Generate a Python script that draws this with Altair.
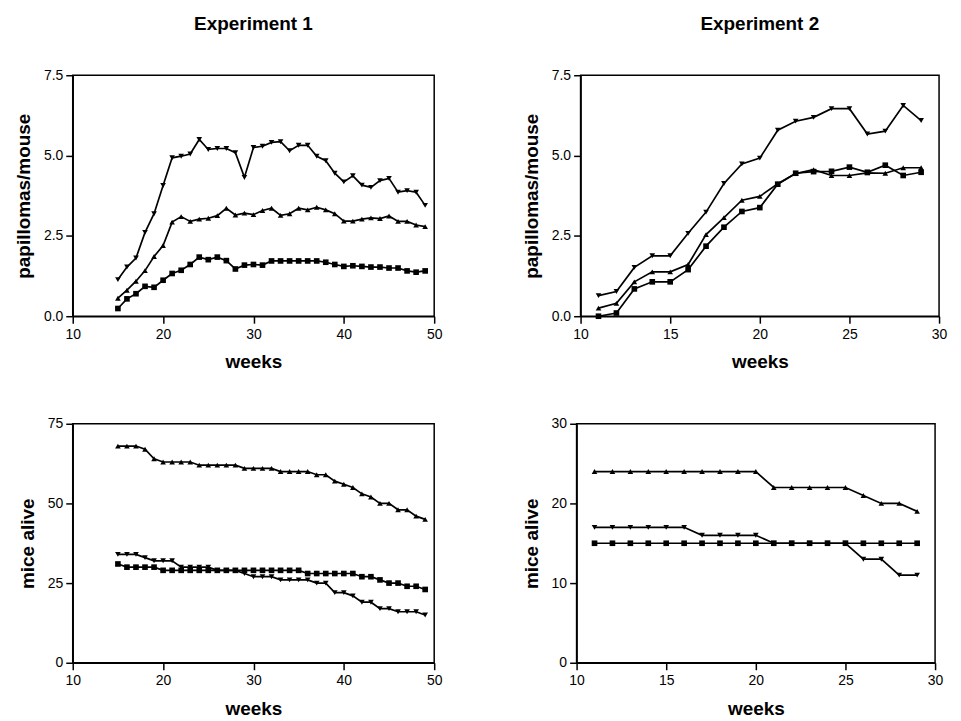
import altair as alt
import pandas as pd

# ---------------- data ----------------
weeks_e1 = list(range(15, 50))
weeks_e2 = list(range(11, 30))

pap_e1_down = [1.14, 1.53, 1.81, 2.61, 3.19, 4.07, 4.93, 4.98, 5.05, 5.50, 5.19, 5.22, 5.22, 5.09, 4.32,
               5.25, 5.29, 5.41, 5.43, 5.15, 5.32, 5.32, 4.98, 4.84, 4.45, 4.18, 4.37, 4.08, 4.01, 4.22,
               4.29, 3.86, 3.91, 3.86, 3.45]
pap_e1_up = [0.56, 0.81, 1.09, 1.42, 1.86, 2.20, 2.93, 3.10, 2.95, 3.02, 3.05, 3.13, 3.36, 3.15, 3.21,
             3.16, 3.29, 3.36, 3.14, 3.19, 3.36, 3.31, 3.39, 3.31, 3.19, 2.96, 2.96, 3.02, 3.06, 3.04,
             3.12, 2.95, 2.95, 2.84, 2.79]
pap_e1_sq = [0.24, 0.54, 0.70, 0.93, 0.90, 1.12, 1.33, 1.43, 1.61, 1.84, 1.76, 1.84, 1.73, 1.47, 1.59,
             1.61, 1.59, 1.72, 1.72, 1.72, 1.72, 1.72, 1.72, 1.68, 1.61, 1.55, 1.57, 1.55, 1.53, 1.53,
             1.50, 1.50, 1.41, 1.37, 1.41]

pap_e2_down = [0.64, 0.77, 1.52, 1.88, 1.88, 2.58, 3.24, 4.13, 4.74, 4.92, 5.79, 6.07, 6.19, 6.46, 6.46,
               5.67, 5.76, 6.56, 6.09]
pap_e2_up = [0.25, 0.40, 1.07, 1.38, 1.38, 1.61, 2.54, 3.07, 3.61, 3.73, 4.12, 4.44, 4.56, 4.38, 4.38,
             4.46, 4.45, 4.62, 4.62]
pap_e2_sq = [0.00, 0.10, 0.85, 1.07, 1.07, 1.45, 2.18, 2.77, 3.26, 3.38, 4.11, 4.45, 4.50, 4.51, 4.64,
             4.48, 4.70, 4.38, 4.48]

alive_e1_down = [34, 34, 34, 33, 32, 32, 32, 30, 30, 30, 30, 29, 29, 29, 28, 27, 27, 27, 26, 26, 26, 26,
                 25, 25, 22, 22, 21, 19, 19, 17, 17, 16, 16, 16, 15]
alive_e1_up = [68, 68, 68, 67, 64, 63, 63, 63, 63, 62, 62, 62, 62, 62, 61, 61, 61, 61, 60, 60, 60, 60,
               59, 59, 57, 56, 55, 53, 52, 50, 50, 48, 48, 46, 45]
alive_e1_sq = [31, 30, 30, 30, 30, 29, 29, 29, 29, 29, 29, 29, 29, 29, 29, 29, 29, 29, 29, 29, 29, 28,
               28, 28, 28, 28, 28, 27, 27, 26, 25, 25, 24, 24, 23]

alive_e2_down = [17, 17, 17, 17, 17, 17, 16, 16, 16, 16, 15, 15, 15, 15, 15, 13, 13, 11, 11]
alive_e2_up = [24, 24, 24, 24, 24, 24, 24, 24, 24, 24, 22, 22, 22, 22, 22, 21, 20, 20, 19]
alive_e2_sq = [15] * 19

series_names = ["down", "up", "square"]
shape_range = ["triangle-down", "triangle-up", "square"]

FONT = "Liberation Sans"


def make_df(weeks, down, up, sq):
    rows = []
    for name, vals in zip(series_names, [down, up, sq]):
        for w, v in zip(weeks, vals):
            rows.append({"week": w, "value": v, "series": name})
    return pd.DataFrame(rows)


def panel(df, xdom, xticks, ydom, yticks, ytitle, yfmt, width, height, title=None):
    x = alt.X("week:Q", scale=alt.Scale(domain=xdom, nice=False, zero=False),
              axis=alt.Axis(values=xticks, title="weeks", format="d"))
    y = alt.Y("value:Q", scale=alt.Scale(domain=ydom, nice=False),
              axis=alt.Axis(values=yticks, title=ytitle, format=yfmt))
    base = alt.Chart(df)
    lines = base.mark_line(color="black", strokeWidth=1.7).encode(x=x, y=y, detail="series:N")
    pts = base.mark_point(filled=True, color="black", opacity=1, size=32).encode(
        x=x, y=y,
        shape=alt.Shape("series:N", scale=alt.Scale(domain=series_names, range=shape_range), legend=None),
    )
    props = dict(width=width, height=height)
    if title:
        props["title"] = alt.TitleParams(title, fontSize=19, font=FONT, fontWeight="bold", offset=34,
                                         anchor="middle")
    return alt.layer(lines, pts).properties(**props)


tl = panel(make_df(weeks_e1, pap_e1_down, pap_e1_up, pap_e1_sq), [10, 50], [10, 20, 30, 40, 50],
           [0, 7.5], [0, 2.5, 5.0, 7.5], "papillomas/mouse", ".1f", 363, 242, "Experiment 1")
tr = panel(make_df(weeks_e2, pap_e2_down, pap_e2_up, pap_e2_sq), [10, 30], [10, 15, 20, 25, 30],
           [0, 7.5], [0, 2.5, 5.0, 7.5], "papillomas/mouse", ".1f", 360, 242, "Experiment 2")
bl = panel(make_df(weeks_e1, alive_e1_down, alive_e1_up, alive_e1_sq), [10, 50], [10, 20, 30, 40, 50],
           [0, 75], [0, 25, 50, 75], "mice alive", "d", 363, 240)
br = panel(make_df(weeks_e2, alive_e2_down, alive_e2_up, alive_e2_sq), [10, 30], [10, 15, 20, 25, 30],
           [0, 30], [0, 10, 20, 30], "mice alive", "d", 360, 240)

chart = alt.vconcat(
    alt.hconcat(tl, tr, spacing=78),
    alt.hconcat(bl, br, spacing=78),
    spacing=43,
).configure(background="white").configure_view(
    stroke="black", strokeWidth=1.5
).configure_axis(
    domainColor="black", domainWidth=1.5, tickColor="black", tickWidth=1.5, tickSize=7,
    labelFont=FONT, labelFontSize=14, labelColor="black", labelPadding=3,
    titleFont=FONT, titleFontSize=19, titleFontWeight="bold", titleColor="black",
    grid=False, labelFlush=False,
).configure_axisX(
    labelPadding=4, titlePadding=12
).configure_axisY(
    titlePadding=10
)

chart.save("out.html", embed_options={"renderer": "svg", "actions": False})
